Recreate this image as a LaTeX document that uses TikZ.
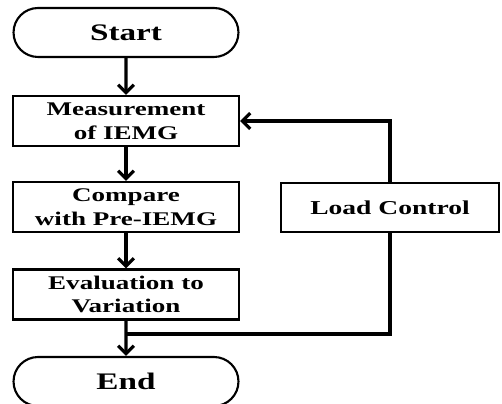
\documentclass[tikz,border=0pt]{standalone}
\usepackage{fontspec}
\setmainfont{Liberation Serif}
\usepackage{tikz}
\usetikzlibrary{calc}
\usetikzlibrary{shapes.misc}
\usetikzlibrary{arrows.meta}
\newcommand{\wide}[1]{\scalebox{1.4}[1]{#1}}
\newcommand{\stepbox}[4]{\node[stepnode] (#1) at ( #2 , #3 ) {#4};}
\newcommand{\termbox}[4]{\node[termnode] (#1) at ( #2 , #3 ) {#4};}
\tikzset{
  stepnode/.style={draw, line width=1.2pt, rectangle, align=center, inner sep=0pt,
    minimum width=4.52cm, minimum height=1.0cm, font=\bfseries\fontsize{11}{13.5}\selectfont},
  termnode/.style={draw, line width=1.2pt, rounded rectangle, inner sep=0pt,
    minimum width=4.5cm, minimum height=0.98cm, font=\bfseries\fontsize{13.5}{15}\selectfont},
  flow/.style={line width=1.8pt, -{Straight Barb[length=4.5pt,width=9pt,line width=1.8pt]}},
  wire/.style={line width=1.8pt}
}
\begin{document}
\begin{tikzpicture}[x=0.02cm,y=-0.02cm]
        \useasboundingbox (0,0) rectangle (502,404);
        % main column
        \termbox{start}{126}{32.5}{\wide{Start}}
        \stepbox{meas}{126}{121}{\wide{Measurement}\\\wide{of IEMG}}
        \stepbox{comp}{126}{207}{\wide{Compare}\\\wide{with Pre-IEMG}}
        \stepbox{eval}{126}{294.5}{\wide{Evaluation to}\\\wide{Variation}}
        \termbox{fin}{126}{381.5}{\wide{End}}
        % side box
        \node[stepnode, minimum width=4.36cm, minimum height=0.98cm, font=\bfseries\fontsize{11.2}{13}\selectfont]
            (load) at ( 390 , 207.5 ) {\wide{Load Control}};
        % arrows down
        \draw[flow] (start) -- (meas);
        \draw[flow] (meas) -- (comp);
        \draw[flow] (comp) -- (eval);
        \draw[flow] (eval) -- (fin);
        % feedback loop
        \coordinate (split) at ( 126 , 334 );
        \draw[wire] (split) -| (load.south);
        \draw[flow] (load.north) |- ($(meas.east)+(3,0)$) -- (meas.east);
    \end{tikzpicture}
\end{document}
